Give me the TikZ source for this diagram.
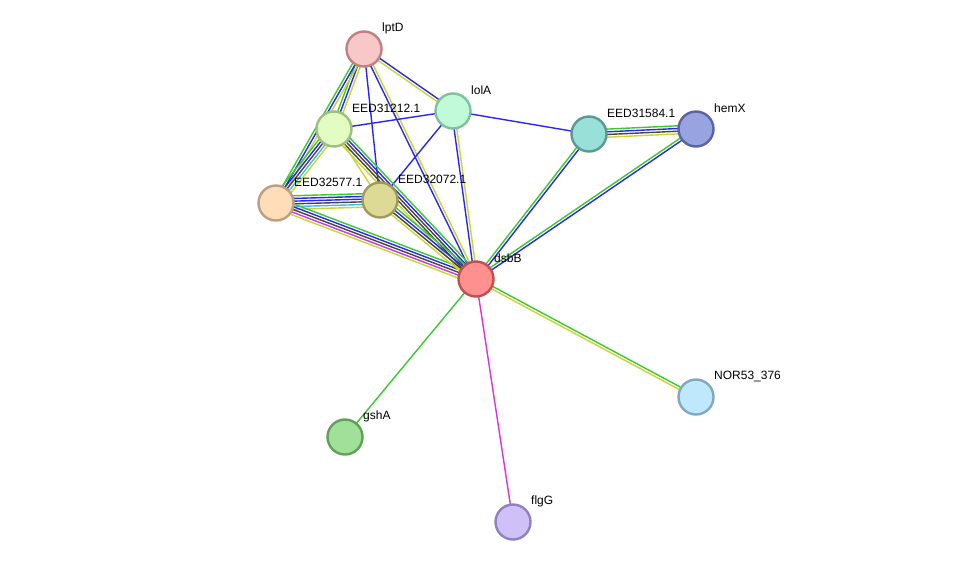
\documentclass[tikz,border=0pt]{standalone}
\usepackage{fontspec}
\setmainfont{Liberation Sans}
\usetikzlibrary{calc}
\pgfdeclarelayer{bg}
\pgfsetlayers{bg,main}
\definecolor{eg}{RGB}{60,200,50}
\definecolor{eb}{RGB}{40,40,245}
\definecolor{ek}{RGB}{70,70,70}
\definecolor{ec}{RGB}{60,190,230}
\definecolor{em}{RGB}{220,50,220}
\definecolor{ey}{RGB}{200,215,50}
\tikzset{
  prot/.style={circle,minimum size=35pt,inner sep=0pt,line width=2.4pt},
  lbl/.style={anchor=west,font=\fontsize{12pt}{14pt}\selectfont,inner sep=0pt},
}
\newcommand\multiedge[3]{%
  \begin{pgfonlayer}{bg}
  \foreach \cc [count=\ii] in {#3} {\xdef\nedges{\ii}}
  \foreach \cc [count=\ii] in {#3} {
    \pgfmathsetmacro\eoff{((\nedges+1)/2-\ii)*2.7}
    \draw[line width=1.4pt,color=\cc] ($(#1.center)!\eoff pt!90:(#2.center)$) -- ($(#2.center)!\eoff pt!-90:(#1.center)$);
  }
  \end{pgfonlayer}}
\begin{document}
\begin{tikzpicture}[x=1pt,y=-1pt]
\begin{pgfonlayer}{bg}
\fill[white] (0,0) rectangle (976,568);
\end{pgfonlayer}
\useasboundingbox (0,0) rectangle (976,568);
% nodes
\node[prot,fill={rgb,255:red,248;green,200;blue,200},draw={rgb,255:red,192;green,128;blue,128}] (lptD) at (364,49) {};
\node[prot,fill={rgb,255:red,192;green,250;blue,216},draw={rgb,255:red,128;green,192;blue,160}] (lolA) at (453,111) {};
\node[prot,fill={rgb,255:red,226;green,252;blue,194},draw={rgb,255:red,160;green,190;blue,128}] (e1212) at (334,129) {};
\node[prot,fill={rgb,255:red,254;green,221;blue,184},draw={rgb,255:red,190;green,158;blue,128}] (e2577) at (276,203) {};
\node[prot,fill={rgb,255:red,221;green,218;blue,149},draw={rgb,255:red,160;green,154;blue,90}] (e2072) at (380,200) {};
\node[prot,fill={rgb,255:red,255;green,144;blue,144},draw={rgb,255:red,192;green,80;blue,80}] (dsbB) at (476,279) {};
\node[prot,fill={rgb,255:red,152;green,224;blue,216},draw={rgb,255:red,90;green,154;blue,144}] (e1584) at (589,134) {};
\node[prot,fill={rgb,255:red,152;green,164;blue,224},draw={rgb,255:red,90;green,100;blue,160}] (hemX) at (696,129) {};
\node[prot,fill={rgb,255:red,192;green,232;blue,252},draw={rgb,255:red,128;green,168;blue,192}] (nor) at (696,397) {};
\node[prot,fill={rgb,255:red,160;green,224;blue,152},draw={rgb,255:red,96;green,160;blue,88}] (gshA) at (345,437) {};
\node[prot,fill={rgb,255:red,208;green,192;blue,248},draw={rgb,255:red,144;green,128;blue,192}] (flgG) at (513,522) {};
% labels
\node[lbl] (llptD) at (382,28) {lptD};
\node[lbl] (llolA) at (471,90) {lolA};
\node[lbl] (l1212) at (352,108) {EED31212.1};
\node[lbl] (l2577) at (294,182) {EED32577.1};
\node[lbl] (l2072) at (398,179) {EED32072.1};
\node[lbl] (ldsbB) at (494,258) {dsbB};
\node[lbl] (l1584) at (607,113) {EED31584.1};
\node[lbl] (lhemX) at (714,108) {hemX};
\node[lbl] (lnor) at (714,376) {NOR53\_376};
\node[lbl] (lgshA) at (363,416) {gshA};
\node[lbl] (lflgG) at (531,501) {flgG};
% edges
\multiedge{lptD}{lolA}{eb,ey}
\multiedge{e1212}{lptD}{eg,eb,ey}
\multiedge{e2577}{lptD}{eg,eb,ey}
\multiedge{lptD}{e2072}{eb}
\multiedge{lptD}{dsbB}{ey,eb}
\multiedge{lolA}{e1212}{eb}
\multiedge{lolA}{e2072}{eb}
\multiedge{lolA}{dsbB}{ey,eb}
\multiedge{lolA}{e1584}{eb}
\multiedge{e2577}{e1212}{eg,eb,ek,ec,ey}
\multiedge{e2577}{e2072}{eg,eb,eb,ek,ec,ey}
\multiedge{e2577}{dsbB}{eg,eb,ek,em,ey}
\multiedge{e1212}{dsbB}{eg,eb,ek,ek,ey}
\multiedge{e1212}{e2072}{ey}
\multiedge{e2072}{dsbB}{eg,eb,ek,ey}
\multiedge{e1584}{hemX}{eg,eb,ek,ey}
\multiedge{dsbB}{e1584}{eg,eb}
\multiedge{dsbB}{hemX}{eg,eb}
\multiedge{dsbB}{nor}{eg,ey}
\multiedge{dsbB}{gshA}{eg}
\multiedge{dsbB}{flgG}{em}
\end{tikzpicture}
\end{document}
